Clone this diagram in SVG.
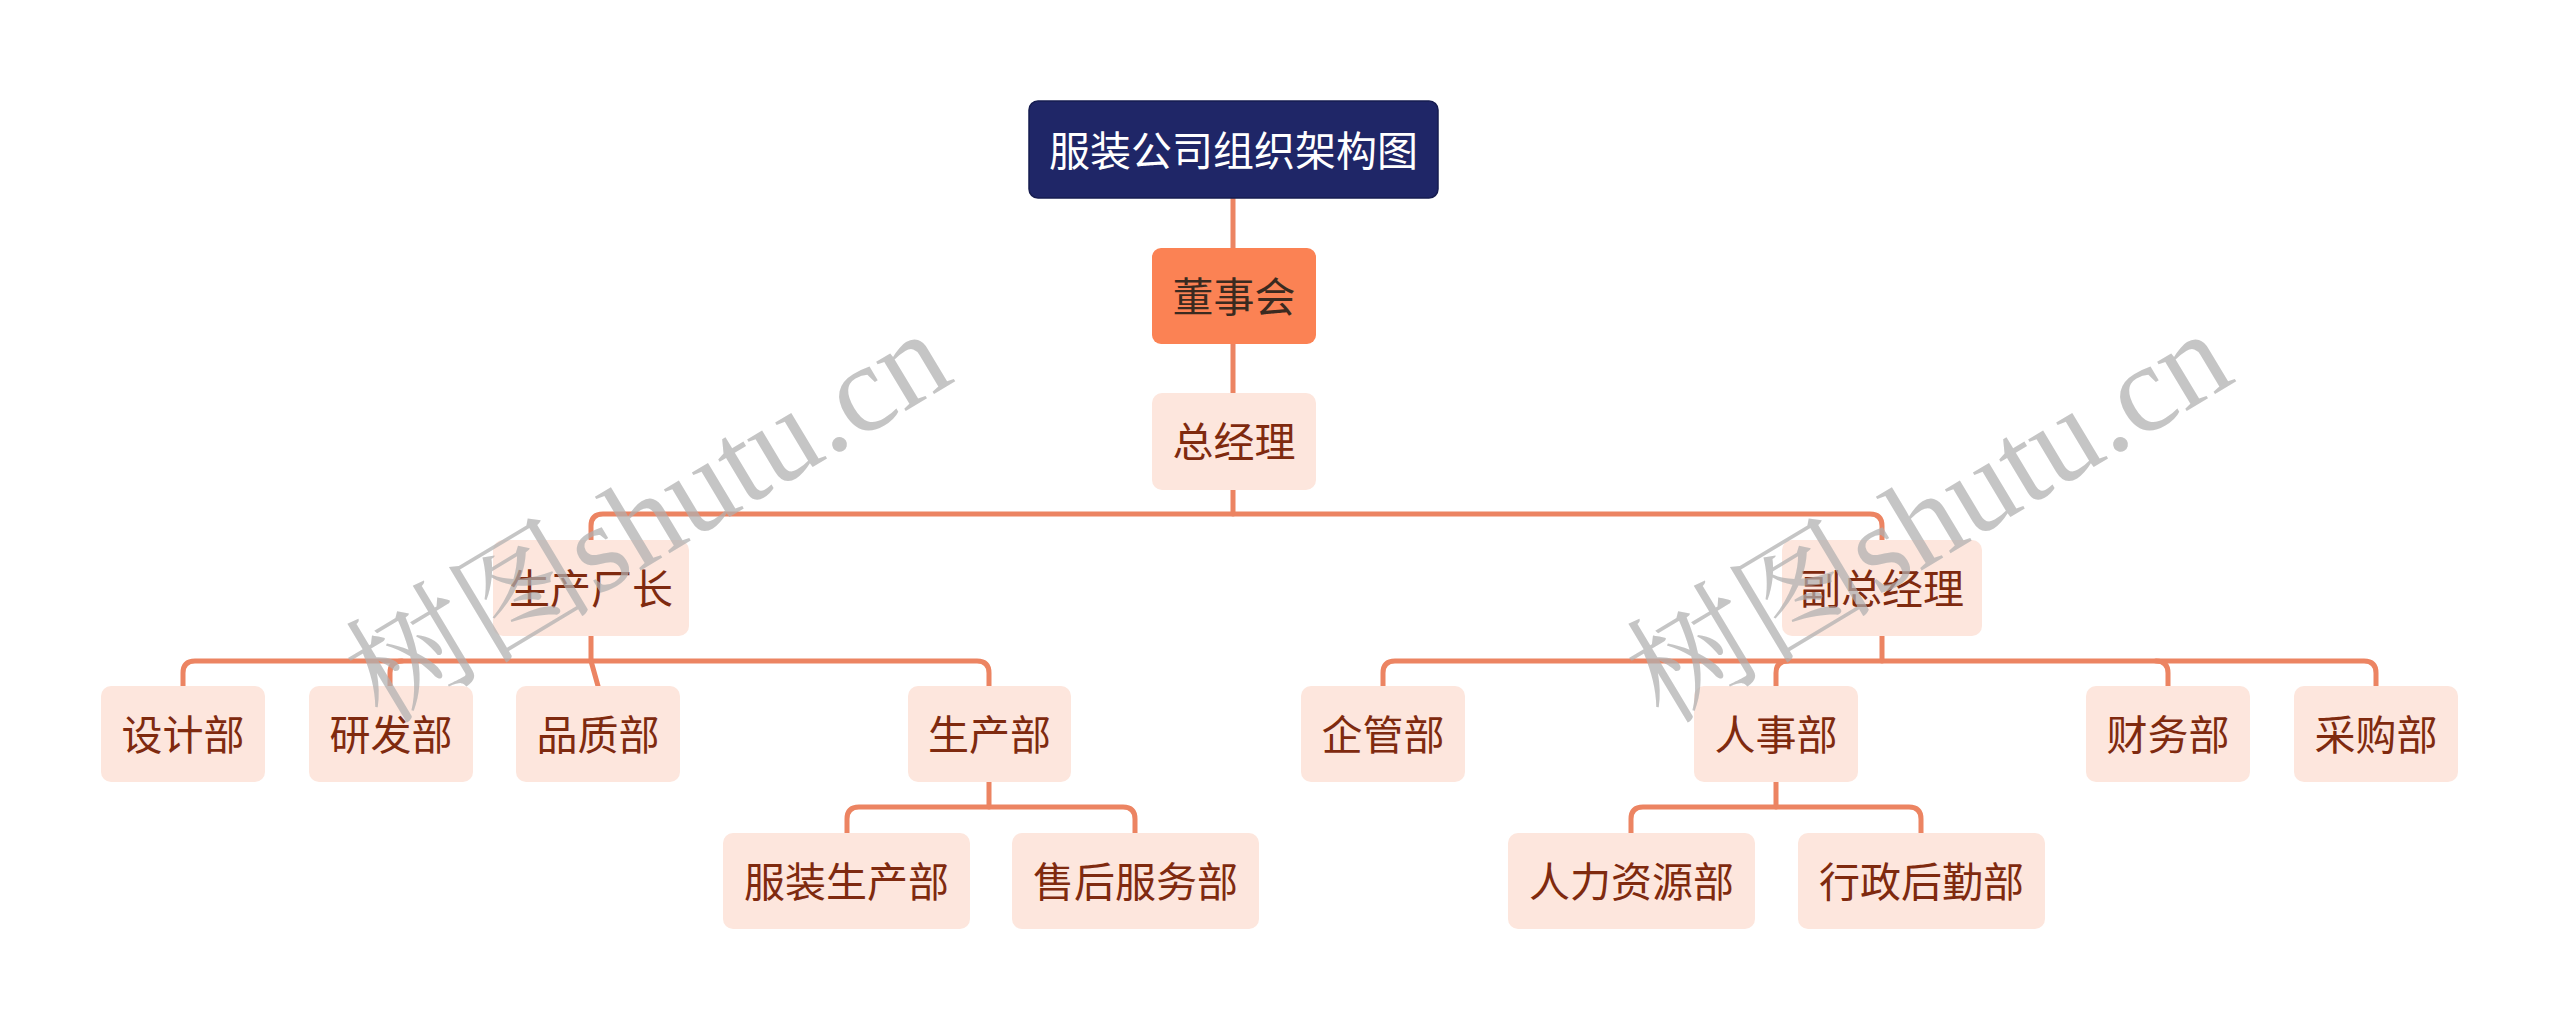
<svg xmlns="http://www.w3.org/2000/svg" width="2560" height="1030" viewBox="0 0 2560 1030">
<style>
.bg{fill:#ffffff}
.lt{fill:#fde6dd}
.lbl{font-family:"Noto Sans CJK SC","Noto Sans",sans-serif;font-size:41px;text-anchor:middle;dominant-baseline:central;fill:#7f2a0f}
.ttl{fill:#ffffff}
.dk{fill:#3a2a20}
.ln{fill:none;stroke:#ec8462;stroke-width:5;stroke-linecap:round;stroke-linejoin:round}
.wm{font-family:"Liberation Serif","Noto Serif CJK SC","Noto Sans CJK SC",serif;font-size:125px;fill:#b0b0b0;opacity:0.72}
</style>
<rect class="bg" x="0" y="0" width="2560" height="1030"/>
<g id="connectors">
<path class="ln" d="M1233 198 V248"/>
<path class="ln" d="M1233 343 V393"/>
<path class="ln" d="M1233 490 V514"/>
<path class="ln" d="M591 540 V526 Q591 514 603 514 H1870 Q1882 514 1882 526 V540"/>
<path class="ln" d="M591 635 V661"/>
<path class="ln" d="M183 686 V673 Q183 661 195 661 H977 Q989 661 989 673 V686"/>
<path class="ln" d="M390 686 V673 Q390 661 402 661"/>
<path class="ln" d="M591 661 L598 686"/>
<path class="ln" d="M1882 635 V661"/>
<path class="ln" d="M1383 686 V673 Q1383 661 1395 661 H2364 Q2376 661 2376 673 V686"/>
<path class="ln" d="M1776 686 V673 Q1776 661 1788 661"/>
<path class="ln" d="M2168 686 V673 Q2168 661 2156 661"/>
<path class="ln" d="M989 782 V807"/>
<path class="ln" d="M847 833 V819 Q847 807 859 807 H1123 Q1135 807 1135 819 V833"/>
<path class="ln" d="M1776 782 V807"/>
<path class="ln" d="M1631 833 V819 Q1631 807 1643 807 H1909 Q1921 807 1921 819 V833"/>
</g>
<g id="n-root">
<rect x="1029" y="101" width="409" height="97" rx="9" fill="#1f2667" stroke="#161c50" stroke-width="1.5"/>
<text class="lbl ttl" x="1233.5" y="148">服装公司组织架构图</text>
</g>
<g id="n-board">
<rect x="1152" y="248" width="164" height="96" rx="9" fill="#fb8254"/>
<text class="lbl dk" x="1234" y="294">董事会</text>
</g>
<g id="n-gm">
<rect class="lt" x="1152" y="393" width="164" height="97" rx="10"/>
<text class="lbl" x="1234" y="439">总经理</text>
</g>
<g id="n-factory">
<rect class="lt" x="493" y="540" width="196" height="96" rx="10"/>
<text class="lbl" x="591" y="586">生产厂长</text>
</g>
<g id="n-vgm">
<rect class="lt" x="1782" y="540" width="200" height="96" rx="10"/>
<text class="lbl" x="1882" y="586">副总经理</text>
</g>
<g id="n-design">
<rect class="lt" x="101" y="686" width="164" height="96" rx="10"/>
<text class="lbl" x="183" y="732">设计部</text>
</g>
<g id="n-rd">
<rect class="lt" x="309" y="686" width="164" height="96" rx="10"/>
<text class="lbl" x="391" y="732">研发部</text>
</g>
<g id="n-qa">
<rect class="lt" x="516" y="686" width="164" height="96" rx="10"/>
<text class="lbl" x="598" y="732">品质部</text>
</g>
<g id="n-prod">
<rect class="lt" x="908" y="686" width="163" height="96" rx="10"/>
<text class="lbl" x="989.5" y="732">生产部</text>
</g>
<g id="n-ent">
<rect class="lt" x="1301" y="686" width="164" height="96" rx="10"/>
<text class="lbl" x="1383" y="732">企管部</text>
</g>
<g id="n-hr">
<rect class="lt" x="1694" y="686" width="164" height="96" rx="10"/>
<text class="lbl" x="1776" y="732">人事部</text>
</g>
<g id="n-fin">
<rect class="lt" x="2086" y="686" width="164" height="96" rx="10"/>
<text class="lbl" x="2168" y="732">财务部</text>
</g>
<g id="n-buy">
<rect class="lt" x="2294" y="686" width="164" height="96" rx="10"/>
<text class="lbl" x="2376" y="732">采购部</text>
</g>
<g id="n-cloth">
<rect class="lt" x="723" y="833" width="247" height="96" rx="10"/>
<text class="lbl" x="846.5" y="879">服装生产部</text>
</g>
<g id="n-after">
<rect class="lt" x="1012" y="833" width="247" height="96" rx="10"/>
<text class="lbl" x="1135.5" y="879">售后服务部</text>
</g>
<g id="n-hrr">
<rect class="lt" x="1508" y="833" width="247" height="96" rx="10"/>
<text class="lbl" x="1631.5" y="879">人力资源部</text>
</g>
<g id="n-admin">
<rect class="lt" x="1798" y="833" width="247" height="96" rx="10"/>
<text class="lbl" x="1921.5" y="879">行政后勤部</text>
</g>
<g id="watermarks">
<text class="wm" x="0" y="0" text-anchor="middle" dominant-baseline="central" transform="translate(648 517) rotate(-31)">树图shutu.cn</text>
<text class="wm" x="0" y="0" text-anchor="middle" dominant-baseline="central" transform="translate(1929 517) rotate(-31)">树图shutu.cn</text>
</g>
</svg>
